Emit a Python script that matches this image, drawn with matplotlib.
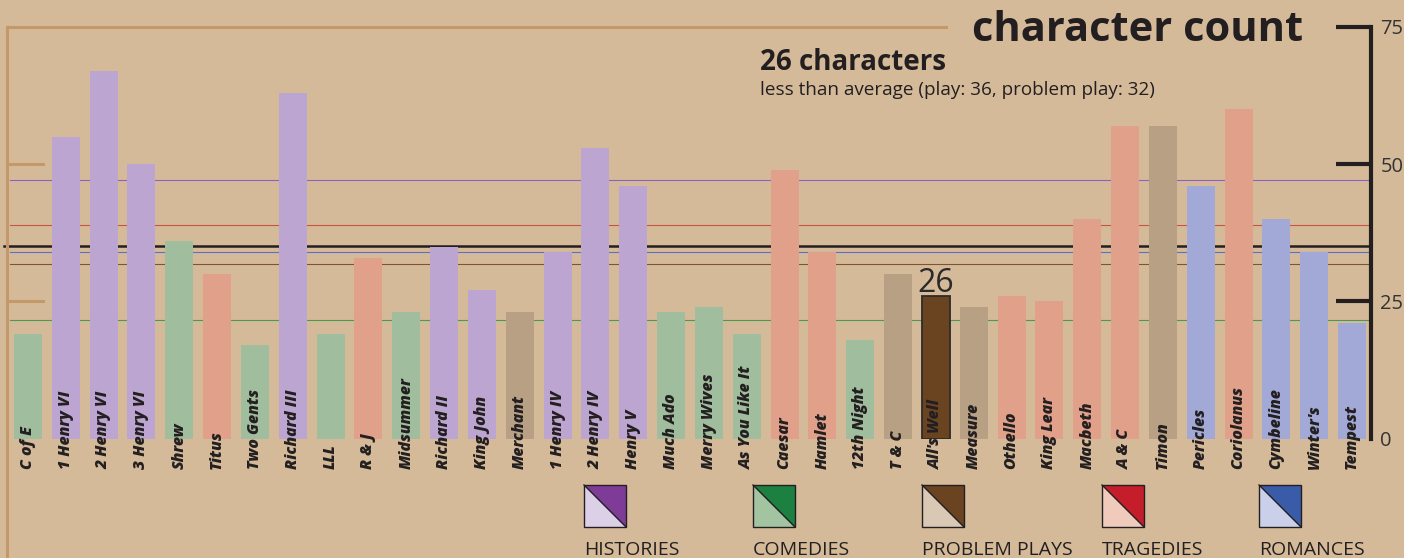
"""Shakespeare character count per play, highlighting All's Well."""
import matplotlib

matplotlib.use("Agg")
import matplotlib.pyplot as plt  # noqa: E402
from matplotlib.lines import Line2D  # noqa: E402
from matplotlib.patches import Polygon, Rectangle  # noqa: E402

plt.rcParams["font.family"] = ["Open Sans", "DejaVu Sans"]

# --- data ---
plays = ["C of E", "1 Henry VI", "2 Henry VI", "3 Henry VI", "Shrew", "Titus",
         "Two Gents", "Richard III", "LLL", "R & J", "Midsummer", "Richard II",
         "King John", "Merchant", "1 Henry IV", "2 Henry IV", "Henry V",
         "Much Ado", "Merry Wives", "As You Like It", "Caesar", "Hamlet",
         "12th Night", "T & C", "All's Well", "Measure", "Othello", "King Lear",
         "Macbeth", "A & C", "Timon", "Pericles", "Coriolanus", "Cymbeline",
         "Winter's", "Tempest"]
characters = [19, 55, 67, 50, 36, 30, 17, 63, 19, 33, 23, 35, 27, 23, 34, 53, 46,
              23, 24, 19, 49, 34, 18, 30, 26, 24, 26, 25, 40, 57, 57, 46, 60, 40,
              34, 21]
genres = ["comedy", "history", "history", "history", "comedy", "tragedy",
          "comedy", "history", "comedy", "tragedy", "comedy", "history",
          "history", "problem", "history", "history", "history", "comedy",
          "comedy", "comedy", "tragedy", "tragedy", "comedy", "problem",
          "problem", "problem", "tragedy", "tragedy", "tragedy", "tragedy",
          "problem", "romance", "tragedy", "romance", "romance", "romance"]
highlight = "All's Well"

legend_keys = ["history", "comedy", "problem", "tragedy", "romance"]
legend_names = ["HISTORIES", "COMEDIES", "PROBLEM PLAYS", "TRAGEDIES", "ROMANCES"]

# average lines (genre means + all plays), as drawn in the reference
avg_keys = ["history", "tragedy", "all", "romance", "problem", "comedy"]
avg_values = [47.1, 38.9, 35.1, 34.0, 31.8, 21.6]

# --- styling ---
BG = "#D5BA9A"
TAN = "#C4996A"
INK = "#231F20"
bar_colors = {"history": "#BDA5D1", "comedy": "#A0BD9D", "problem": "#B8A085",
              "tragedy": "#E0A08A", "romance": "#A3A9D7"}
dark_colors = {"history": "#7E3C98", "comedy": "#1B8040", "problem": "#6A4420",
               "tragedy": "#C41E2A", "romance": "#3A5BA8"}
light_colors = {"history": "#DCD0E8", "comedy": "#A3C4A0", "problem": "#D8C8B4",
                "tragedy": "#F0CBBB", "romance": "#CACFEA"}
line_colors = {"history": "#9060C0", "tragedy": "#C85540", "all": INK,
               "romance": "#5A70C8", "problem": "#7E5530", "comedy": "#4A9A50"}

W, H = 1404, 558


def fx(px):
    return px / W


def fy(py):
    return 1 - py / H


fig = plt.figure(figsize=(W / 100, H / 100), dpi=100)
fig.patch.set_facecolor(BG)

ax = fig.add_axes([fx(7), fy(438.7), (1370.7 - 7) / W, (438.7 - 27) / H])
ax.set_facecolor("none")
n = len(plays)
ax.set_xlim(-0.555, n - 1 + 0.49)
ax.set_ylim(0, 75)

# average lines behind the bars
for key, val in zip(avg_keys, avg_values):
    if key == "all":
        ax.axhline(val, color=line_colors[key], lw=1.8, xmin=-0.002, zorder=2,
                   clip_on=False)
    else:
        ax.axhline(val, color=line_colors[key], lw=0.8, xmin=0.002, zorder=2)

bars = ax.bar(range(n), characters, width=0.74,
              color=[bar_colors[g] for g in genres], zorder=3)
hi = plays.index(highlight)
bars[hi].set_facecolor(dark_colors[genres[hi]])
bars[hi].set_edgecolor("#2B2B2B")
bars[hi].set_linewidth(1.3)
ax.text(hi, characters[hi] + 0.75, str(characters[hi]), ha="center",
        va="baseline", fontsize=23, color="#2A2A2A", zorder=5)

for i, name in enumerate(plays):
    ax.text(i, -5.5, name, rotation=90, ha="center", va="bottom", fontsize=11.3,
            fontweight=800, fontstyle="italic", color=INK, clip_on=False,
            zorder=5)

# right axis
for side in ("top", "left", "bottom"):
    ax.spines[side].set_visible(False)
ax.spines["right"].set_linewidth(3)
ax.spines["right"].set_color(INK)
ax.set_xticks([])
ax.yaxis.tick_right()
ax.set_yticks([0, 25, 50, 75])
ax.tick_params(axis="y", direction="in", length=25, width=3, color=INK,
               labelsize=14.5, labelcolor="#333333", pad=7)
ax.yaxis.get_major_ticks()[0].tick2line.set_visible(False)

# tan frame on the left/top with short marks at 25 and 50
fig.add_artist(Line2D([fx(7), fx(946)], [fy(27), fy(27)], color=TAN, lw=2.2))
fig.add_artist(Line2D([fx(7), fx(7)], [fy(27), 0], color=TAN, lw=2.2))
for v in (25, 50):
    ax.plot([0, 0.0264], [v, v], transform=ax.get_yaxis_transform(), color=TAN,
            lw=2.2, clip_on=False)

# titles
fig.text(fx(1303), fy(41), "character count", ha="right", va="baseline",
         fontsize=30, fontweight="bold", color=INK)
fig.text(fx(760), fy(70), f"{characters[hi]} characters", ha="left",
         va="baseline", fontsize=20, fontweight="bold", color=INK)
fig.text(fx(760), fy(95), "less than average (play: 36, problem play: 32)",
         ha="left", va="baseline", fontsize=13.6, color=INK)

# legend: split squares
legend_x = [584, 753, 922, 1102, 1259]
for key, name, lx in zip(legend_keys, legend_names, legend_x):
    x0, x1, y0, y1 = fx(lx), fx(lx + 42), fy(485), fy(527)
    fig.add_artist(Polygon([(x0, y0), (x1, y0), (x1, y1)], closed=True,
                           facecolor=dark_colors[key], edgecolor="none"))
    fig.add_artist(Polygon([(x0, y0), (x0, y1), (x1, y1)], closed=True,
                           facecolor=light_colors[key], edgecolor="none"))
    fig.add_artist(Line2D([x0, x1], [y0, y1], color=INK, lw=1))
    fig.add_artist(Rectangle((x0, y1), x1 - x0, y0 - y1, fill=False,
                             edgecolor=INK, lw=1))
    fig.text(x0, fy(555), name, ha="left", va="baseline", fontsize=14,
             color=INK)

fig.savefig("out.png", dpi=100, facecolor=BG)
